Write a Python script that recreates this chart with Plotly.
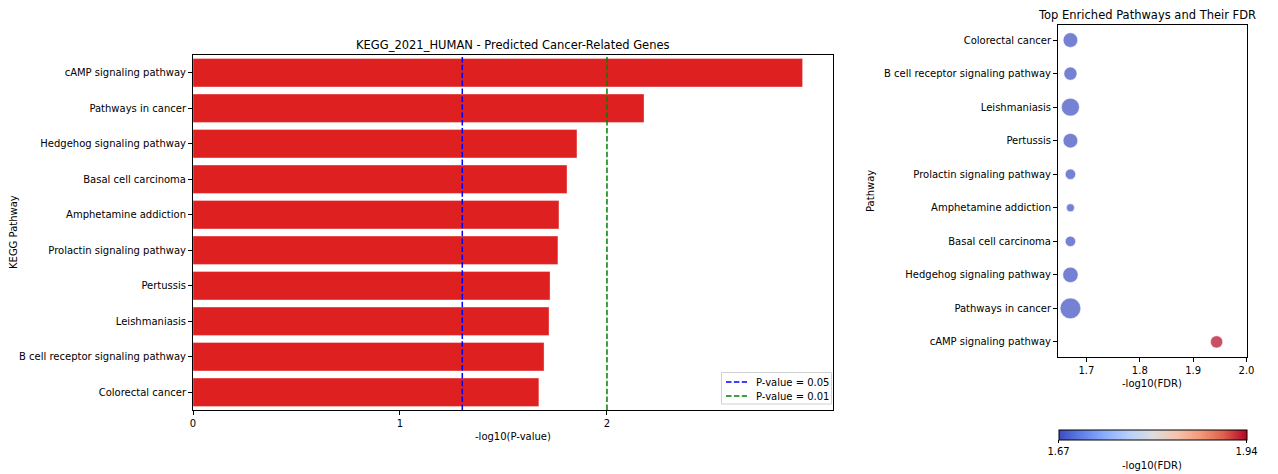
import numpy as np
import plotly.graph_objects as go

# Pathways ranked by enrichment significance
pathways = [
    "cAMP signaling pathway",
    "Pathways in cancer",
    "Hedgehog signaling pathway",
    "Basal cell carcinoma",
    "Amphetamine addiction",
    "Prolactin signaling pathway",
    "Pertussis",
    "Leishmaniasis",
    "B cell receptor signaling pathway",
    "Colorectal cancer",
]
neg_log_p = [2.945, 2.179, 1.855, 1.807, 1.768, 1.763, 1.725, 1.720, 1.696, 1.671]
neg_log_fdr = [1.944, 1.670, 1.670, 1.670, 1.670, 1.670, 1.670, 1.670, 1.670, 1.670]
gene_counts = [7, 20, 11, 5, 3, 5, 10, 15, 8, 10]
thresholds = [0.05, 0.01]
threshold_colors = ["blue", "green"]

W, H = 1278, 474
FONT = "DejaVu Sans"
DASH = "5.5px,2.4px"


def px_x(x):
    return x / W


def px_y(y):
    return 1 - y / H


coolwarm = [
    [0.0, "rgb(59,76,192)"],
    [0.125, "rgb(98,130,234)"],
    [0.25, "rgb(141,176,254)"],
    [0.375, "rgb(184,208,249)"],
    [0.5, "rgb(221,221,221)"],
    [0.625, "rgb(245,196,173)"],
    [0.75, "rgb(244,154,123)"],
    [0.875, "rgb(222,96,77)"],
    [1.0, "rgb(180,4,38)"],
]

fig = go.Figure()

# Bar chart of -log10(P-value)
fig.add_trace(go.Bar(
    x=neg_log_p, y=pathways, orientation="h", width=0.8,
    marker=dict(color="#df2020", line=dict(color="rgba(255,255,255,0.6)", width=0.6)),
    showlegend=False, xaxis="x", yaxis="y",
))

# Significance thresholds
for pv, col in zip(thresholds, threshold_colors):
    fig.add_shape(
        type="line", xref="x", yref="y domain",
        x0=-np.log10(pv), x1=-np.log10(pv), y0=0, y1=1,
        line=dict(color=col, width=1.5, dash=DASH),
    )

# Legend box for the threshold lines (lower right of the bar panel)
fig.add_shape(
    type="rect", xref="paper", yref="paper",
    x0=px_x(721.5), x1=px_x(831.5), y0=px_y(404), y1=px_y(372.5),
    line=dict(color="#d0d0d0", width=1), fillcolor="rgba(255,255,255,0.8)",
)
for i, (pv, col) in enumerate(zip(thresholds, threshold_colors)):
    yy = 382 + i * 14
    fig.add_shape(
        type="line", xref="paper", yref="paper",
        x0=px_x(726), x1=px_x(747), y0=px_y(yy), y1=px_y(yy),
        line=dict(color=col, width=1.5, dash=DASH),
    )
    fig.add_annotation(
        text=f"P-value = {pv}", x=px_x(754), y=px_y(yy), xref="paper", yref="paper",
        xanchor="left", yanchor="middle", showarrow=False,
        font=dict(family=FONT, size=10, color="black"),
    )

# Bubble chart of -log10(FDR)
counts = np.array(gene_counts, dtype=float)
fig.add_trace(go.Scatter(
    x=neg_log_fdr, y=pathways, mode="markers",
    marker=dict(
        size=4.62 * np.sqrt(counts),
        color=neg_log_fdr, colorscale=coolwarm,
        cmin=min(neg_log_fdr), cmax=max(neg_log_fdr),
        opacity=0.7, line=dict(color="white", width=0.5),
        colorbar=dict(
            orientation="h", x=px_x(1152.5), xanchor="center",
            y=px_y(429.5), yanchor="top", len=188, lenmode="pixels",
            thickness=10, xpad=0, ypad=0,
            outlinewidth=1, outlinecolor="black",
            tickvals=[min(neg_log_fdr), max(neg_log_fdr)],
            ticktext=[f"{min(neg_log_fdr):.2f}", f"{max(neg_log_fdr):.2f}"],
            ticks="outside", ticklen=3, tickcolor="black",
            tickfont=dict(family=FONT, size=10, color="black"),
        ),
    ),
    showlegend=False, xaxis="x2", yaxis="y2",
))

axis_common = dict(
    showline=True, mirror=True, linecolor="black", linewidth=1,
    ticks="outside", ticklen=4, tickcolor="black", showgrid=False, zeroline=False,
    tickfont=dict(family=FONT, size=10, color="black"),
)

fig.update_layout(
    width=W, height=H, margin=dict(l=0, r=0, t=0, b=0, autoexpand=False),
    paper_bgcolor="white", plot_bgcolor="white", showlegend=False,
    font=dict(family=FONT, size=10, color="black"),
    xaxis=dict(domain=[px_x(193), px_x(833)], anchor="y", range=[0, 3.092],
               tickvals=[0, 1, 2], **axis_common),
    yaxis=dict(domain=[px_y(410), px_y(55)], anchor="x", type="category",
               range=[9.5, -0.5], **axis_common),
    xaxis2=dict(domain=[px_x(1058), px_x(1246.5)], anchor="y2", range=[1.6467, 2.0],
                tickvals=[1.7, 1.8, 1.9, 2.0], ticktext=["1.7", "1.8", "1.9", "2.0"],
                **axis_common),
    yaxis2=dict(domain=[px_y(357), px_y(25)], anchor="x2", type="category",
                range=[-0.45, 9.45], **axis_common),
)

texts = [
    ("KEGG_2021_HUMAN - Predicted Cancer-Related Genes", 513, 45, 11.5, 0),
    ("-log10(P-value)", 513, 436, 10, 0),
    ("KEGG Pathway", 13, 232, 10, -90),
    ("Top Enriched Pathways and Their FDR", 1147, 15, 11.5, 0),
    ("-log10(FDR)", 1152, 383, 10, 0),
    ("Pathway", 870, 191, 10, -90),
    ("-log10(FDR)", 1152, 465, 10, 0),
]
for txt, x, y, size, ang in texts:
    fig.add_annotation(
        text=txt, x=px_x(x), y=px_y(y), xref="paper", yref="paper",
        xanchor="center", yanchor="middle", showarrow=False, textangle=ang,
        font=dict(family=FONT, size=size, color="black"),
    )

fig.write_html(
    "out.html",
    post_script="document.body.style.margin='0';document.body.style.overflow='hidden';",
)
